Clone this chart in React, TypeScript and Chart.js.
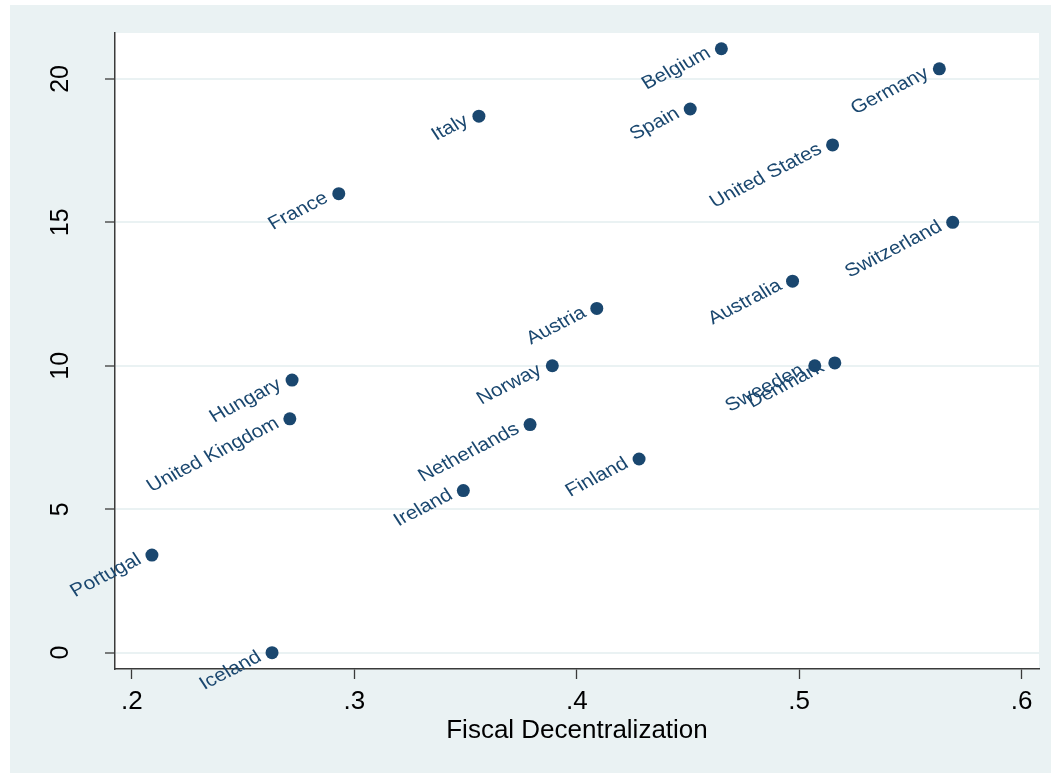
import React, { useEffect, useRef } from "react";
import { Chart, registerables } from "chart.js";

Chart.register(...registerables);

const countries = [
  "Belgium", "Germany", "Italy", "Spain", "United States", "France", "Switzerland",
  "Australia", "Austria", "Norway", "Sweeden", "Denmark", "Hungary", "United Kingdom",
  "Netherlands", "Finland", "Ireland", "Portugal", "Iceland",
];
const fiscalDecentralization = [
  0.465, 0.563, 0.356, 0.451, 0.515, 0.293, 0.569,
  0.497, 0.409, 0.389, 0.507, 0.516, 0.272, 0.271,
  0.379, 0.428, 0.349, 0.209, 0.263,
];
const yValues = [
  21.05, 20.35, 18.7, 18.95, 17.7, 16.0, 15.0,
  12.95, 12.0, 10.0, 10.0, 10.1, 9.5, 8.15,
  7.95, 6.75, 5.65, 3.4, 0.0,
];
const xTicks = [0.2, 0.3, 0.4, 0.5, 0.6];
const xTickLabels = [".2", ".3", ".4", ".5", ".6"];
const yTicks = [0, 5, 10, 15, 20];
const yTickLabels = ["0", "5", "10", "15", "20"];
const xTitle = "Fiscal Decentralization";

const FONT = "'Liberation Sans', Arial, sans-serif";
const NAVY = "#1a476f";
const BG = "#eaf2f3";
const AXIS = "#3a3a3a";

const backgroundPlugin = {
  id: "stataBackground",
  beforeDraw(chart: any) {
    const { ctx, width, height, chartArea } = chart;
    ctx.save();
    ctx.fillStyle = "#ffffff";
    ctx.fillRect(0, 0, width, height);
    ctx.fillStyle = BG;
    ctx.fillRect(10, 5, width - 10, height - 5);
    ctx.fillStyle = "#ffffff";
    ctx.fillRect(chartArea.left, chartArea.top, chartArea.right - chartArea.left, chartArea.bottom - chartArea.top);
    ctx.restore();
  },
};

const labelPlugin = {
  id: "markerLabels",
  afterDatasetsDraw(chart: any) {
    const { ctx } = chart;
    const meta = chart.getDatasetMeta(0);
    ctx.save();
    ctx.fillStyle = NAVY;
    ctx.font = `18.5px ${FONT}`;
    ctx.textAlign = "right";
    ctx.textBaseline = "alphabetic";
    meta.data.forEach((pt: any, i: number) => {
      ctx.save();
      ctx.translate(pt.x, pt.y);
      ctx.scale(1.13, 1);
      ctx.rotate(-Math.PI / 6);
      ctx.fillText(countries[i], -11, 2.4);
      ctx.restore();
    });
    ctx.restore();
  },
};

export default function App() {
  const ref = useRef<HTMLCanvasElement | null>(null);

  useEffect(() => {
    if (!ref.current) return;
    const chart = new Chart(ref.current, {
      type: "scatter",
      data: {
        datasets: [
          {
            data: fiscalDecentralization.map((x, i) => ({ x, y: yValues[i] })),
            pointRadius: 6.5,
            pointHoverRadius: 6.5,
            pointBackgroundColor: NAVY,
            pointBorderWidth: 0,
            borderColor: NAVY,
            showLine: false,
          },
        ],
      },
      options: {
        animation: false,
        responsive: false,
        events: [],
        layout: { padding: { left: 0, top: 33, right: 12, bottom: 0 } },
        plugins: {
          legend: { display: false },
          tooltip: { enabled: false },
          title: { display: false },
        },
        scales: {
          x: {
            type: "linear",
            min: 0.1924,
            max: 0.6078,
            afterBuildTicks: (s: any) => {
              s.ticks = xTicks.map((v) => ({ value: v }));
            },
            afterFit: (s: any) => {
              s.height = 104;
              s.paddingLeft = 0;
              s.paddingRight = 0;
            },
            grid: {
              drawOnChartArea: false,
              drawTicks: true,
              tickLength: 10,
              tickColor: AXIS,
              tickWidth: 1.3,
            },
            border: { display: true, color: AXIS, width: 1.5 },
            ticks: {
              autoSkip: false,
              maxRotation: 0,
              minRotation: 0,
              padding: 7,
              color: "#000",
              font: { family: FONT, size: 26 },
              callback: (_v: any, i: number) => xTickLabels[i],
            },
            title: {
              display: true,
              text: xTitle,
              color: "#000",
              font: { family: FONT, size: 26 },
              padding: { top: 0, bottom: 27 },
            },
          },
          y: {
            type: "linear",
            min: -0.57,
            max: 21.6,
            afterBuildTicks: (s: any) => {
              s.ticks = yTicks.map((v) => ({ value: v }));
            },
            afterFit: (s: any) => {
              s.width = 115;
              s.paddingTop = 0;
              s.paddingBottom = 0;
            },
            grid: {
              color: BG,
              lineWidth: 2,
              drawTicks: true,
              tickLength: 10,
              tickColor: AXIS,
              tickWidth: 1.3,
            },
            border: { display: true, color: AXIS, width: 1.5 },
            ticks: {
              autoSkip: false,
              minRotation: 90,
              maxRotation: 90,
              crossAlign: "center",
              padding: 30,
              color: "#000",
              font: { family: FONT, size: 25 },
              callback: (_v: any, i: number) => yTickLabels[i],
            },
          },
        },
      },
      plugins: [backgroundPlugin, labelPlugin],
    } as any);
    return () => chart.destroy();
  }, []);

  return (
    <div style={{ position: "absolute", left: 0, top: 0, width: 1051, height: 773 }}>
      <canvas ref={ref} width={1051} height={773} style={{ display: "block", width: 1051, height: 773 }} />
    </div>
  );
}
